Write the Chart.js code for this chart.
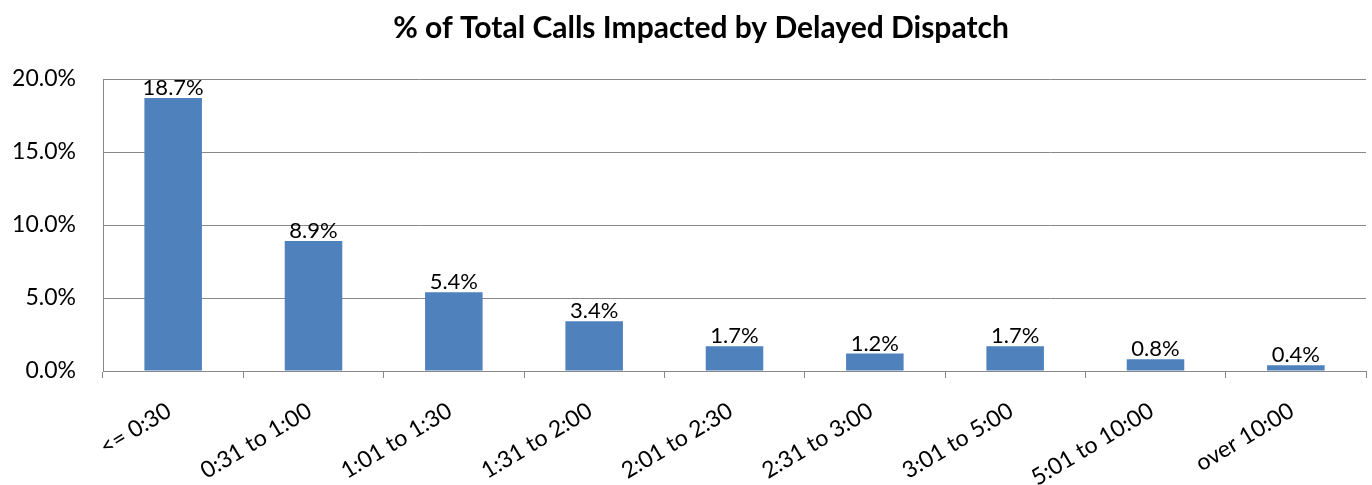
<!DOCTYPE html>
<html>
<head>
<meta charset="utf-8">
<title>% of Total Calls Impacted by Delayed Dispatch</title>
<script src="https://cdn.jsdelivr.net/npm/chart.js"></script>
<style>
  html, body { margin: 0; padding: 0; background: #fff; }
  #wrap { width: 1372px; height: 485px; }
</style>
</head>
<body>
<div id="wrap"><canvas id="chart"></canvas></div>
<script>
const categories = ['<= 0:30', '0:31 to 1:00', '1:01 to 1:30', '1:31 to 2:00', '2:01 to 2:30',
  '2:31 to 3:00', '3:01 to 5:00', '5:01 to 10:00', 'over 10:00'];
const pctValues = [18.7, 8.9, 5.4, 3.4, 1.7, 1.2, 1.7, 0.8, 0.4];
const yTicks = [0, 5, 10, 15, 20];
const chartTitle = '% of Total Calls Impacted by Delayed Dispatch';

const FONT = 'Lato, "Open Sans", sans-serif';

// labels above the bars + title (title sits a bit right of canvas centre, as in the original)
const barLabels = {
  id: 'barLabels',
  afterDatasetsDraw(chart) {
    const ctx = chart.ctx;
    const meta = chart.getDatasetMeta(0);
    ctx.save();
    ctx.font = '22px ' + FONT;
    ctx.fillStyle = '#000';
    ctx.textAlign = 'center';
    ctx.textBaseline = 'bottom';
    meta.data.forEach((bar, i) => {
      ctx.fillText(pctValues[i].toFixed(1) + '%', bar.x, bar.y + 1);
    });
    ctx.font = 'bold 30px ' + FONT;
    ctx.textBaseline = 'middle';
    ctx.fillText(chartTitle, 701, 28);
    ctx.restore();
  }
};

new Chart(document.getElementById('chart'), {
  type: 'bar',
  data: {
    labels: categories,
    datasets: [{
      data: pctValues,
      backgroundColor: '#4F81BD',
      borderWidth: 0,
      barPercentage: 0.41,
      categoryPercentage: 1.0
    }]
  },
  options: {
    responsive: true,
    maintainAspectRatio: false,
    animation: false,
    layout: { padding: { left: 0, right: 6, top: 79, bottom: 0 } },
    plugins: {
      legend: { display: false },
      tooltip: { enabled: false },
      title: { display: false }
    },
    scales: {
      x: {
        offset: true,
        grid: { display: true, drawOnChartArea: false, offset: true, color: '#888', tickLength: 7 },
        border: { color: '#888', width: 1 },
        ticks: {
          color: '#000',
          font: { family: FONT, size: 23 },
          maxRotation: 31,
          minRotation: 31,
          padding: 19,
          labelOffset: -4,
          autoSkip: false
        },
        afterFit(scale) { scale.height = 114; }
      },
      y: {
        min: 0,
        max: 20,
        afterBuildTicks(scale) { scale.ticks = yTicks.map(v => ({ value: v })); },
        grid: { color: '#888', drawTicks: false },
        border: { color: '#888', width: 1 },
        ticks: {
          color: '#000',
          font: { family: FONT, size: 23 },
          padding: 27,
          callback: v => v.toFixed(1) + '%'
        },
        afterFit(scale) { scale.width = 103; }
      }
    }
  },
  plugins: [barLabels]
});
</script>
</body>
</html>
